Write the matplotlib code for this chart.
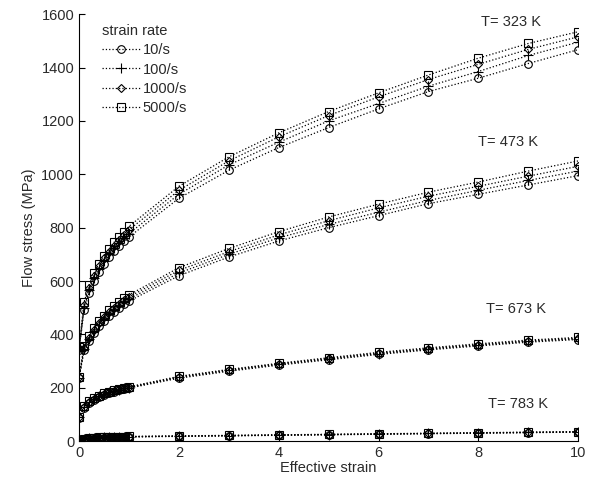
import matplotlib.pyplot as plt
import numpy as np

plt.rcParams['font.family'] = ['Liberation Sans', 'DejaVu Sans']
plt.rcParams['text.color'] = '#2a2a2a'
plt.rcParams['xtick.labelcolor'] = '#2a2a2a'
plt.rcParams['ytick.labelcolor'] = '#2a2a2a'
plt.rcParams['axes.labelcolor'] = '#2a2a2a'

strain = [0, 0.1, 0.2, 0.3, 0.4, 0.5, 0.6, 0.7, 0.8, 0.9, 1.0, 2, 3, 4, 5, 6, 7, 8, 9, 10]
rates = ['10/s', '100/s', '1000/s', '5000/s']
markers = ['o', '+', 'D', 's']
msizes = [5.5, 6.5, 4.2, 5.5]

# flow stress (MPa) per temperature, one row per strain rate
T323 = [
    [340, 490, 555, 600, 635, 665, 690, 712, 732, 750, 765, 910, 1015, 1100, 1175, 1245, 1310, 1360, 1415, 1467],
    [345, 500, 565, 610, 645, 675, 700, 722, 743, 762, 778, 925, 1035, 1120, 1200, 1265, 1330, 1385, 1445, 1495],
    [348, 510, 575, 620, 655, 685, 710, 733, 754, 773, 792, 940, 1050, 1140, 1220, 1290, 1355, 1412, 1468, 1515],
    [352, 520, 585, 630, 665, 695, 720, 745, 765, 785, 805, 955, 1065, 1155, 1235, 1305, 1372, 1435, 1490, 1534],
]
T473 = [
    [235, 340, 375, 405, 430, 450, 468, 485, 500, 513, 525, 620, 690, 750, 800, 845, 890, 925, 960, 995],
    [237, 345, 382, 412, 437, 457, 475, 492, 507, 520, 533, 630, 700, 762, 812, 858, 902, 940, 977, 1012],
    [239, 350, 388, 418, 444, 464, 483, 499, 514, 528, 541, 640, 710, 773, 826, 874, 918, 955, 993, 1030],
    [241, 355, 395, 425, 450, 470, 490, 505, 520, 535, 548, 650, 722, 785, 840, 888, 933, 971, 1012, 1050],
]
T673 = [
    [88, 126, 144, 156, 166, 174, 181, 186, 191, 196, 199, 236, 262, 285, 305, 325, 342, 357, 371, 381],
    [89, 128, 146, 158, 168, 176, 183, 188, 193, 198, 201, 239, 265, 288, 308, 328, 345, 360, 374, 384],
    [90, 129, 147, 159, 169, 177, 184, 189, 194, 199, 202, 241, 267, 290, 310, 330, 347, 362, 376, 386],
    [91, 131, 149, 161, 171, 179, 186, 191, 196, 201, 204, 243, 269, 292, 313, 333, 350, 365, 379, 389],
]
T783 = [
    [4, 8, 10, 11, 12, 13, 14, 14, 15, 15, 16, 18, 20, 22, 24, 26, 28, 30, 32, 34],
    [5, 9, 11, 12, 13, 14, 15, 15, 16, 16, 17, 19, 21, 23, 25, 27, 29, 31, 33, 35],
    [5, 9, 11, 12, 13, 14, 15, 15, 16, 16, 17, 19, 21, 23, 25, 27, 29, 31, 33, 35],
    [6, 10, 12, 13, 14, 15, 16, 16, 17, 17, 18, 20, 22, 24, 26, 28, 30, 32, 34, 36],
]
temps = ['T= 323 K', 'T= 473 K', 'T= 673 K', 'T= 783 K']
label_pos = [(8.05, 1570), (8.0, 1120), (8.15, 497), (8.2, 141)]

fig = plt.figure(figsize=(5.9, 4.87), dpi=100)
ax = fig.add_axes([0.134, 0.094, 0.846, 0.877])

for k, data in enumerate([T323, T473, T673, T783]):
    for i in range(4):
        ax.plot(strain, data[i], linestyle=':', color='black', linewidth=0.9,
                marker=markers[i], markersize=msizes[i], markerfacecolor='none',
                markeredgecolor='black', markeredgewidth=0.8,
                label=rates[i] if k == 0 else None)
    ax.text(label_pos[k][0], label_pos[k][1], temps[k], fontsize=10.5,
            va='center', ha='left')

ax.set_xlim(0, 10)
ax.set_ylim(0, 1600)
ax.set_xticks([0, 2, 4, 6, 8, 10])
ax.set_yticks(range(0, 1601, 200))
ax.set_xlabel('Effective strain', fontsize=10.5, labelpad=1)
ax.set_ylabel('Flow stress (MPa)', fontsize=10.5, labelpad=4)
ax.tick_params(direction='in', labelsize=10.5, length=4)
ax.spines['top'].set_visible(False)
ax.spines['right'].set_visible(False)

leg = ax.legend(title='strain rate', loc='upper left', frameon=False,
                fontsize=10.5, title_fontsize=10.5, handlelength=2.6,
                handletextpad=0.2, labelspacing=0.35, borderaxespad=0.3,
                bbox_to_anchor=(0.025, 1.0), alignment='left')

fig.savefig('out.png', dpi=100)
